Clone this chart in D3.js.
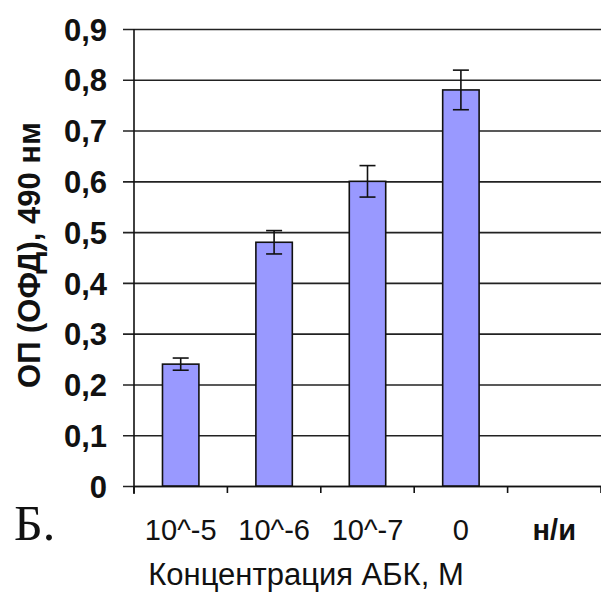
<!DOCTYPE html>
<html><head><meta charset="utf-8">
<script src="https://cdn.jsdelivr.net/npm/d3@7"></script>
<style>body{margin:0;background:#fff}svg{display:block}</style>
</head><body>
<script>
const categories = ["10^-5", "10^-6", "10^-7", "0", "н/и"];
const values = [0.24, 0.48, 0.60, 0.78, null];
const errors = [0.012, 0.023, 0.031, 0.039, null];
const yTicks = [0, 0.1, 0.2, 0.3, 0.4, 0.5, 0.6, 0.7, 0.8, 0.9];

const W = 601, H = 593;
const svg = d3.select("body").append("svg").attr("width", W).attr("height", H);
const x = d3.scaleBand().domain(categories).range([134, 601]).padding(0);
const y = d3.scaleLinear().domain([0, 0.9]).range([486, 29]);
const fmt = d => d === 0 ? "0" : d3.format(".1f")(d).replace(".", ",");

// gridlines + left ticks
const yAxis = d3.axisLeft(y).tickValues(yTicks).tickSize(-(601 - 134)).tickSizeOuter(0).tickFormat(fmt).tickPadding(27);
const gy = svg.append("g").attr("transform", "translate(134,0)").call(yAxis);
gy.select(".domain").remove();
gy.selectAll(".tick line").attr("x1", -11).attr("stroke", "#222").attr("stroke-width", 1.6);
gy.selectAll(".tick text").attr("font-family", "Liberation Sans, Arial, sans-serif")
  .attr("font-weight", "bold").attr("font-size", 31).attr("fill", "#111").attr("dy", "0.36em");

// y axis line
svg.append("line").attr("x1", 134).attr("x2", 134).attr("y1", y(0.9)).attr("y2", 494)
  .attr("stroke", "#111").attr("stroke-width", 1.6);

// bottom axis
const xAxis = d3.axisBottom(x).tickSize(0).tickFormat(d => d);
const gx = svg.append("g").attr("transform", "translate(0,486)").call(xAxis);
gx.select(".domain").attr("stroke", "#111").attr("stroke-width", 1.6);
gx.selectAll(".tick text").attr("font-family", "Liberation Sans, Arial, sans-serif")
  .attr("font-size", 29).attr("fill", "#111").attr("y", 54).attr("dy", 0)
  .attr("font-weight", d => d === "н/и" ? "bold" : "normal");
// category boundary ticks
const bounds = categories.map(c => x(c)).concat([x(categories[categories.length-1]) + x.bandwidth()]);
svg.append("g").selectAll("line").data(bounds).join("line")
  .attr("x1", d => d).attr("x2", d => d).attr("y1", 486).attr("y2", 493)
  .attr("stroke", "#111").attr("stroke-width", 1.6);

// bars
const bw = x.bandwidth() * 0.39;
const data = categories.map((c, i) => ({c, v: values[i], e: errors[i]})).filter(d => d.v != null);
svg.append("g").selectAll("rect").data(data).join("rect")
  .attr("x", d => x(d.c) + x.bandwidth()/2 - bw/2).attr("width", bw)
  .attr("y", d => y(d.v)).attr("height", d => y(0) - y(d.v))
  .attr("fill", "#9999FF").attr("stroke", "#111").attr("stroke-width", 1.6);

// error bars
const eg = svg.append("g").attr("stroke", "#111").attr("stroke-width", 1.6);
data.forEach(d => {
  const cx = x(d.c) + x.bandwidth()/2;
  eg.append("line").attr("x1", cx).attr("x2", cx).attr("y1", y(d.v + d.e)).attr("y2", y(d.v - d.e));
  eg.append("line").attr("x1", cx - 8).attr("x2", cx + 8).attr("y1", y(d.v + d.e)).attr("y2", y(d.v + d.e));
  eg.append("line").attr("x1", cx - 8).attr("x2", cx + 8).attr("y1", y(d.v - d.e)).attr("y2", y(d.v - d.e));
});

// axis titles
svg.append("text").attr("transform", "translate(40,255) rotate(-90)").attr("text-anchor", "middle")
  .attr("font-family", "Liberation Sans, Arial, sans-serif").attr("font-weight", "bold")
  .attr("font-size", 31).attr("fill", "#111").text("ОП (ОФД), 490 нм");
svg.append("text").attr("x", 306).attr("y", 585).attr("text-anchor", "middle")
  .attr("font-family", "Liberation Sans, Arial, sans-serif")
  .attr("font-size", 31).attr("fill", "#111").text("Концентрация АБК, М");
svg.append("text").attr("x", 14).attr("y", 540)
  .attr("font-family", "Liberation Serif, Times New Roman, serif")
  .attr("font-size", 50).attr("fill", "#111").text("Б.");
</script>
</body></html>
